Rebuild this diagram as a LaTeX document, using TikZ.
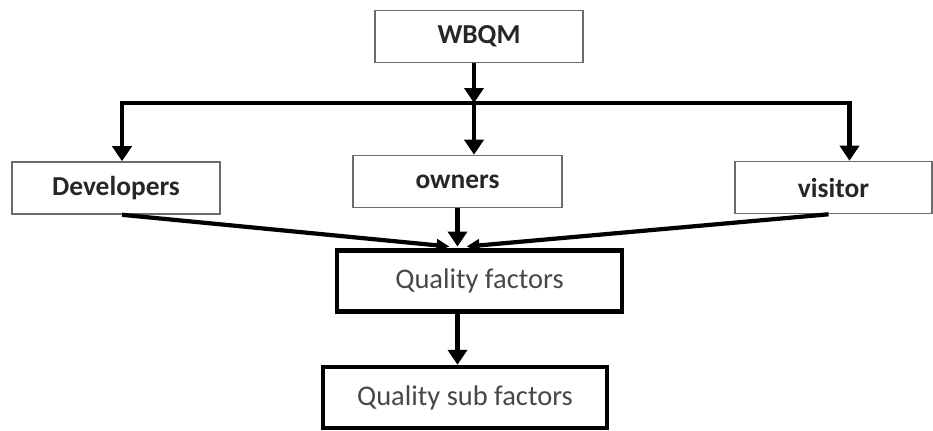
\documentclass[tikz,border=0pt]{standalone}
\usepackage{fontspec}
\setmainfont{Carlito}
\usetikzlibrary{arrows.meta}

\begin{document}
\begin{tikzpicture}[
    userbox/.style={draw=gray!85!black,line width=0.9pt,minimum height=1.04cm,font=\fontsize{15.6}{18}\selectfont\bfseries,text=black!85},
    factorbox/.style={draw=black,line width=2.5pt,minimum height=1.22cm,font=\fontsize{16.2}{19}\selectfont,text=black!72},
    arr/.style={line width=2.6pt,-{Triangle[width=0.38cm,length=0.3cm]}},
    feed/.style={line width=2.4pt,-{Triangle[width=0.24cm,length=0.26cm]}}
]
    \useasboundingbox (0,0) rectangle (18.66,-8.6);
    % boxes
    \node[userbox,minimum width=4.16cm] (wbqm) at (9.58,-0.73) {WBQM};
    \node[userbox,minimum width=4.16cm] (dev) at (2.32,-3.76) {Developers};
    \node[userbox,minimum width=4.18cm] (owners) at (9.15,-3.63) {owners};
    \node[userbox,minimum width=3.94cm] (visitor) at (16.67,-3.75) {visitor};
    \node[factorbox,minimum width=5.7cm] (qf) at (9.59,-5.62) {Quality factors};
    \node[factorbox,minimum width=5.68cm] (qsf) at (9.3,-7.95) {Quality sub factors};
    % distribution line
    \coordinate (split) at (9.48,-2.06);
    \draw[arr] (wbqm.south -| split) -- (split);
    \draw[arr] (split) -- (split |- owners.north);
    \draw[arr] (split) -| ([xshift=0.12cm]dev.north);
    \draw[arr] (split) -| ([xshift=0.32cm]visitor.north);
    % into quality factors
    \coordinate (meet) at ([yshift=1pt]owners.south |- qf.north);
    \draw[feed] ([xshift=0.12cm]dev.south) -- ([xshift=-0.16cm]meet);
    \draw[feed] ([xshift=-0.1cm]visitor.south) -- ([xshift=0.18cm]meet);
    \draw[arr] (owners.south) -- (meet);
    \draw[arr] (meet |- qf.south) -- (meet |- qsf.north);
\end{tikzpicture}
\end{document}
